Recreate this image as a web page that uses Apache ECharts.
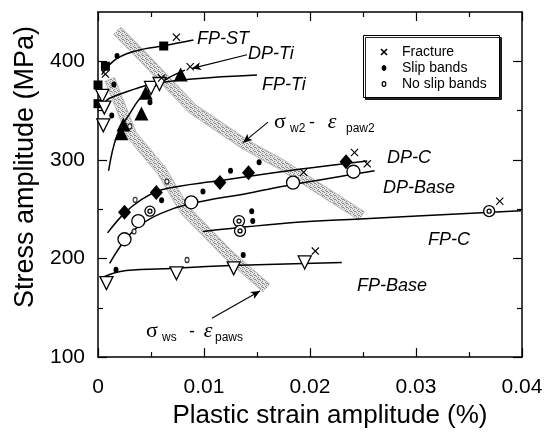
<!DOCTYPE html>
<html>
<head>
<meta charset="utf-8">
<script src="https://cdn.jsdelivr.net/npm/echarts@6/dist/echarts.min.js"></script>
<style>html,body{margin:0;padding:0;background:#fff;}#c{width:550px;height:434px;}</style>
</head>
<body>
<div id="c"></div>
<script>
// ---- data (x: plastic strain amplitude %, y: stress amplitude MPa) ----
const xTicks = [0, 0.01, 0.02, 0.03, 0.04];
const yMajorTicks = [100, 200, 300, 400];
const yMinorTicks = [150, 250, 350];

const fpST = [[0.0062,415.5],[0.0007,395],[0.0,376],[0.0,357]];
const dpTi = [[0.0078,386.5],[0.0045,368],[0.0041,347],[0.0024,336],[0.0022,327]];
const fpTi = [[0.0004,365],[0.0006,353],[0.0005,335],[0.0050,373],[0.0058,377]];
const dpC = [[0.0025,247],[0.0055,267],[0.0115,277],[0.0142,287],[0.0234,298]];
const dpBase = [[0.0025,219.5],[0.0038,238],[0.0088,257],[0.0184,277],[0.0241,288]];
const dpBaseBull = [[0.0049,248]];
const fpC = [[0.0133,238],[0.0134,228],[0.0369,248]];
const fpBase = [[0.0008,175],[0.0074,185],[0.0128,190],[0.0195,196]];
const fracture = [[0.0074,424.5],[0.0007,387],[0.0087,394.5],[0.0060,383],[0.0242,307.5],[0.0254,296],[0.0194,287.5],[0.0379,258],[0.0205,207.5]];
const slipBands = [[0.0018,405.5],[0.0015,376.5],[0.0013,345],[0.0049,358.5],[0.0060,259],[0.0099,268],[0.0125,289],[0.0152,297.5],[0.0145,248],[0.0146,238],[0.0137,203.5],[0.0017,188.5]];
const noSlipBands = [[0.0065,278],[0.0035,259.5],[0.0034,227.5],[0.0084,198.5],[0.0030,334]];

const fitFpST = [[0.00035,386.5],[0.0014,399.7],[0.0027,407.6],[0.0044,412.6],[0.0061,415.5],[0.009,421.5]];
const fitDpTi = [[0.001,289],[0.0018,325],[0.003,347],[0.0042,365],[0.0063,381],[0.0082,391]];
const fitFpTi = [[0.0006,357],[0.001,362],[0.0035,372],[0.0051,377],[0.0089,382],[0.015,386]];
const fitDpC = [[0.0009,226],[0.0025,246],[0.004,259],[0.0061,270],[0.0115,279],[0.019,290.5],[0.0254,299]];
const fitDpBase = [[0.0011,195],[0.0025,218],[0.004,234],[0.006,246],[0.0085,255],[0.0143,266.5],[0.0184,275],[0.0261,289]];
const fitFpC = [[0.0099,227.5],[0.0191,237],[0.0247,240],[0.0399,248.5]];
const fitFpBase = [[0.0002,179.6],[0.0021,186.8],[0.0062,189.5],[0.0125,192.8],[0.023,196]];
const bandW2 = [[0.0018,431],[0.0042,405],[0.0089,352],[0.0139,315.5],[0.0172,296],[0.0249,243]];
const bandWs = [[0.0011,382],[0.0032,325],[0.006,289],[0.0082,249],[0.0123,204],[0.0159,170]];

const arrows = [
  [[0.01406,406.6],[0.00887,392.8]],
  [[0.01604,338.3],[0.01368,317.5]],
  [[0.01075,139.3],[0.01528,167.0]]
];

// ---- rendering ----
const FONT = '"Liberation Sans", Arial, Helvetica, sans-serif';
const SERIF = '"Liberation Serif", "DejaVu Serif", serif';

function stipple(){
  const c = document.createElement('canvas'); c.width = 4; c.height = 4;
  const g = c.getContext('2d');
  g.fillStyle = '#e4e4e4'; g.fillRect(0,0,4,4);
  g.fillStyle = '#8c8c8c';
  [[0,0],[2,1],[1,2],[3,3],[2,3]].forEach(p => g.fillRect(p[0],p[1],1,1));
  return c;
}
const pattern = {image: stipple(), repeat: 'repeat'};

const chart = echarts.init(document.getElementById('c'), null, {renderer: 'canvas'});

const black = '#000';
const tickStyle = {color: black, width: 1.2};
function xAxisCfg(pos, labels){
  return {
    type: 'value', position: pos, min: 0, max: 0.04, interval: 0.01,
    axisLine: {show: true, onZero: false, lineStyle: {color: black, width: 1.5}},
    axisTick: {show: true, inside: true, length: 9, lineStyle: tickStyle},
    minorTick: {show: true, splitNumber: 2, length: 5, lineStyle: tickStyle},
    splitLine: {show: false}, minorSplitLine: {show: false},
    axisLabel: labels ? {show: true, color: black, fontSize: 21, fontFamily: FONT, margin: 20,
      formatter: v => { const t = xTicks.find(k => Math.abs(k - v) < 1e-9); return t === undefined ? '' : String(t); }} : {show: false},
    name: labels ? 'Plastic strain amplitude (%)' : '',
    nameLocation: 'middle', nameGap: 39,
    nameTextStyle: {fontSize: 26, color: black, fontFamily: FONT, padding: [0,0,0,40]}
  };
}
function yAxisCfg(pos, major, labels){
  return {
    type: 'value', position: pos, min: 100, max: 450, interval: 50,
    axisLine: {show: major, onZero: false, lineStyle: {color: black, width: 1.5}},
    axisTick: {show: true, inside: true, length: major ? 9 : 5, lineStyle: tickStyle,
      customValues: major ? yMajorTicks : yMinorTicks},
    splitLine: {show: false},
    axisLabel: labels ? {show: true, color: black, fontSize: 21, fontFamily: FONT, margin: 13,
      customValues: yMajorTicks} : {show: false},
    name: labels ? 'Stress amplitude (MPa)' : '',
    nameLocation: 'middle', nameRotate: 90, nameGap: 58,
    nameTextStyle: {fontSize: 27, color: black, fontFamily: FONT, padding: [0,0,0,35]}
  };
}

function fit(name, data){
  return {name, type: 'line', data, smooth: 0.4, showSymbol: false, symbol: 'none', z: 3,
    lineStyle: {color: black, width: 1.5}, silent: true};
}
function band(name, data, w){
  return [
    {name, type: 'line', data, showSymbol: false, symbol: 'none', z: 1, silent: true,
      lineStyle: {color: '#bdbdbd', width: w + 1, cap: 'butt'}},
    {name: name + ' texture', type: 'line', data, showSymbol: false, symbol: 'none', z: 1, silent: true,
      lineStyle: {color: pattern, width: w - 1, cap: 'butt'}}
  ];
}
function pts(name, data, symbol, size, filled, extra){
  return Object.assign({name, type: 'scatter', data, symbol, symbolSize: size, z: 5, silent: true,
    itemStyle: {color: filled ? black : '#fff', borderColor: black, borderWidth: filled ? 0 : 1.3, opacity: 1}}, extra || {});
}
const crossPath = 'path://M0,1L1,0L5,4L9,0L10,1L6,5L10,9L9,10L5,6L1,10L0,9L4,5Z';

const series = [
  ...band('σw2-εpaw2 band', bandW2, 10),
  ...band('σws-εpaws band', bandWs, 10),
  fit('FP-ST fit', fitFpST),
  fit('DP-Ti fit', fitDpTi),
  fit('FP-Ti fit', fitFpTi),
  fit('DP-C fit', fitDpC),
  fit('DP-Base fit', fitDpBase),
  fit('FP-C fit', fitFpC),
  fit('FP-Base fit', fitFpBase),
  pts('FP-ST', fpST, 'rect', 9, true),
  pts('DP-Ti', dpTi, 'triangle', 14, true),
  pts('FP-Ti', fpTi, 'triangle', 13, false, {symbolRotate: 180}),
  pts('DP-C', dpC, 'diamond', [13,15], true),
  pts('DP-Base', dpBase, 'circle', 13, false),
  pts('DP-Base bull', dpBaseBull, 'circle', 10, false),
  pts('FP-C', fpC, 'circle', 11, false),
  pts('FP-C inner', fpC, 'circle', 4, false),
  pts('DP-Base bull inner', dpBaseBull, 'circle', 4, false),
  pts('FP-Base', fpBase, 'triangle', 13, false, {symbolRotate: 180}),
  pts('Fracture', fracture, crossPath, 8, true, {z: 6}),
  pts('Slip bands', slipBands, 'circle', [5,6], true, {z: 6}),
  pts('No slip bands', noSlipBands, 'circle', [4,5], false, {z: 6, itemStyle: {color: '#fff', borderColor: black, borderWidth: 1.2}}),
  {name: 'arrows', type: 'line', data: [], silent: true,
    markLine: {silent: true, symbol: ['none', 'arrow'], symbolSize: [6, 9], animation: false,
      label: {show: false}, lineStyle: {color: black, width: 1.1, type: 'solid'},
      data: arrows.map(a => [{coord: a[0]}, {coord: a[1]}])}}
];

function txt(text, x, y, font, align, extra){
  return Object.assign({type: 'text', x, y, z: 50, silent: true,
    style: {text, font, fill: black, align: align || 'left', verticalAlign: 'middle',
      textAlign: align || 'left', textVerticalAlign: 'middle'}}, extra || {});
}
const IT = 'italic 18px ' + FONT;
const graphics = [
  txt('FP-ST', 197, 39, IT),
  txt('DP-Ti', 248, 54, IT),
  txt('FP-Ti', 262, 85, IT),
  txt('DP-C', 387, 158, IT),
  txt('DP-Base', 383, 188, IT),
  txt('FP-C', 428, 240, IT),
  txt('FP-Base', 357, 286, IT),
  // sigma w2 - epsilon paw2
  txt('σ', 280, 122, '22px ' + SERIF, 'center'),
  txt('w2', 290, 129, '12px ' + FONT),
  txt('-', 312, 123, '18px ' + FONT, 'center'),
  txt('ε', 332, 122, 'italic 22px ' + SERIF, 'center'),
  txt('paw2', 346, 129, '12px ' + FONT),
  // sigma ws - epsilon paws
  txt('σ', 152, 331, '22px ' + SERIF, 'center'),
  txt('ws', 162, 338, '12px ' + FONT),
  txt('-', 192, 332, '18px ' + FONT, 'center'),
  txt('ε', 208, 331, 'italic 22px ' + SERIF, 'center'),
  txt('paws', 215, 338, '12px ' + FONT),
  // legend box
  {type: 'rect', z: 40, silent: true, shape: {x: 363.5, y: 35.5, width: 136, height: 62},
    style: {fill: '#fff', stroke: black, lineWidth: 1, shadowColor: 'rgba(0,0,0,0.85)', shadowOffsetX: 2, shadowOffsetY: 2, shadowBlur: 0}},
  {type: 'line', z: 45, silent: true, shape: {x1: 381, y1: 49, x2: 387, y2: 55}, style: {stroke: black, lineWidth: 1.6}},
  {type: 'line', z: 45, silent: true, shape: {x1: 387, y1: 49, x2: 381, y2: 55}, style: {stroke: black, lineWidth: 1.6}},
  {type: 'ellipse', z: 45, silent: true, shape: {cx: 384, cy: 68, rx: 2.4, ry: 3}, style: {fill: black}},
  {type: 'ellipse', z: 45, silent: true, shape: {cx: 384, cy: 84, rx: 1.8, ry: 2.3}, style: {fill: '#fff', stroke: black, lineWidth: 1.2}},
  txt('Fracture', 402, 52, '14px ' + FONT),
  txt('Slip bands', 402, 68, '14px ' + FONT),
  txt('No slip bands', 402, 84, '14px ' + FONT)
];

chart.setOption({
  animation: false,
  backgroundColor: '#fff',
  grid: {left: 98, right: 28, top: 12, bottom: 66, containLabel: false},
  xAxis: [xAxisCfg('bottom', true), xAxisCfg('top', false)],
  yAxis: [yAxisCfg('left', true, true), yAxisCfg('left', false, false), yAxisCfg('right', true, false), yAxisCfg('right', false, false)],
  series,
  graphic: graphics
});
</script>
</body>
</html>
